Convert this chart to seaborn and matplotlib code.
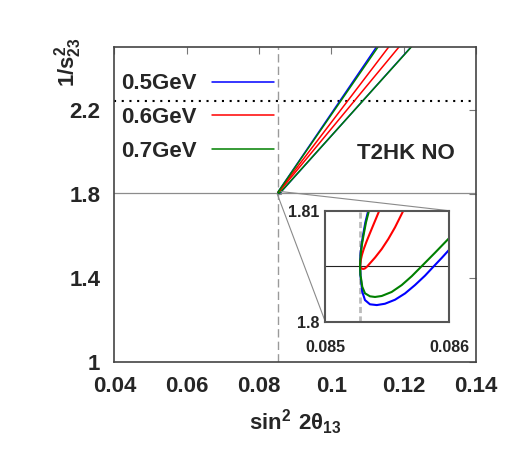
import pandas as pd
import seaborn as sns
import matplotlib
matplotlib.use('Agg')
import matplotlib.pyplot as plt
from matplotlib.lines import Line2D
from mpl_toolkits.axes_grid1.inset_locator import mark_inset

# true point and the s23 reference line
x_true = 0.08528
y_true = 1.805
y_dotted = 2.24

energies = ['0.5GeV', '0.6GeV', '0.7GeV']
colors = ['blue', 'red', 'green']

# degeneracy branches (inset detail + exit at top of main frame)
blue_up_x = [0.08528, 0.085281, 0.085285, 0.085293, 0.085306, 0.085323, 0.085346, 0.11255]
blue_up_y = [1.805, 1.8055, 1.8062, 1.8070, 1.8079, 1.80895, 1.81, 2.5]
blue_low_x = [0.08528, 0.085283, 0.085288, 0.085298, 0.08532, 0.08536, 0.085415, 0.085481,
              0.085562, 0.085643, 0.085723, 0.085804, 0.085871, 0.085939, 0.086, 0.12215]
blue_low_y = [1.805, 1.8042, 1.80376, 1.8027, 1.80195, 1.80157, 1.8015, 1.80162,
              1.80198, 1.80255, 1.8033, 1.80415, 1.80495, 1.80575, 1.8065, 2.5]

red_up_x = [0.08528, 0.085285, 0.085295, 0.08531, 0.085334, 0.08536, 0.085387, 0.085415,
            0.085435, 0.11595]
red_up_y = [1.805, 1.8055, 1.806, 1.80655, 1.80727, 1.80798, 1.80871, 1.80946, 1.81, 2.5]
red_low_x = [0.08528, 0.085288, 0.085298, 0.08531, 0.085322, 0.085336, 0.085355, 0.085401,
             0.085455, 0.085508, 0.085562, 0.085629, 0.1188]
red_low_y = [1.805, 1.80485, 1.80477, 1.80476, 1.80482, 1.80496, 1.8052, 1.80578,
             1.80655, 1.80745, 1.8085, 1.81, 2.5]

green_up_x = [0.08528, 0.085282, 0.085287, 0.085296, 0.08531, 0.085328, 0.085352, 0.11299]
green_up_y = [1.805, 1.8055, 1.8062, 1.8070, 1.8079, 1.80895, 1.81, 2.5]
green_low_x = [0.08528, 0.085283, 0.085288, 0.085298, 0.08532, 0.08536, 0.085401, 0.085455,
               0.085535, 0.085616, 0.085697, 0.085777, 0.085885, 0.086, 0.12222]
green_low_y = [1.805, 1.8042, 1.80391, 1.80315, 1.80256, 1.80229, 1.80223, 1.80232,
               1.80268, 1.8033, 1.8041, 1.805, 1.80622, 1.80755, 2.5]

xticks = [0.04, 0.06, 0.08, 0.1, 0.12, 0.14]
xtick_labels = ['0.04', '0.06', '0.08', '0.1', '0.12', '0.14']
yticks = [1, 1.4, 1.8, 2.2]
ytick_labels = ['1', '1.4', '1.8', '2.2']
inset_xticks = [0.085, 0.086]
inset_xtick_labels = ['0.085', '0.086']
inset_yticks = [1.8, 1.81]
inset_ytick_labels = ['1.8', '1.81']

branches = [
    ('0.5GeV', 'up', blue_up_x, blue_up_y),
    ('0.5GeV', 'low', blue_low_x, blue_low_y),
    ('0.6GeV', 'up', red_up_x, red_up_y),
    ('0.6GeV', 'low', red_low_x, red_low_y),
    ('0.7GeV', 'up', green_up_x, green_up_y),
    ('0.7GeV', 'low', green_low_x, green_low_y),
]
rows = []
for e, b, xs, ys in branches:
    for xv, yv in zip(xs, ys):
        rows.append({'energy': e, 'branch': e + b, 'x': xv, 'y': yv})
df = pd.DataFrame(rows)

sns.set_style('white')
plt.rcParams['font.family'] = ['Liberation Sans', 'DejaVu Sans']
plt.rcParams['font.weight'] = 'bold'
plt.rcParams['mathtext.fontset'] = 'custom'
plt.rcParams['mathtext.rm'] = 'Liberation Sans:bold'
plt.rcParams['mathtext.it'] = 'Liberation Sans:bold'
plt.rcParams['mathtext.bf'] = 'Liberation Sans:bold'

fig = plt.figure(figsize=(5.18, 4.53), dpi=100)
ax = fig.add_axes([0.2207, 0.2015, 0.6983, 0.6958])

# reference lines
ax.axhline(y_true, color='#8c8c8c', lw=0.9, zorder=1)
ax.axvline(x_true, color='#9a9a9a', lw=1.0, ls=(0, (6, 3)), zorder=1)
ax.axhline(y_dotted, color='black', lw=1.5, ls=(0, (1, 2.7)), zorder=1)

sns.lineplot(data=df, x='x', y='y', hue='energy', hue_order=energies, palette=colors,
             units='branch', estimator=None, sort=False, lw=1.1, legend=False, ax=ax)

ax.set_xlim(0.04, 0.14)
ax.set_ylim(1, 2.5)
ax.set_xticks(xticks)
ax.set_xticklabels(xtick_labels)
ax.set_yticks(yticks)
ax.set_yticklabels(ytick_labels)
ax.tick_params(direction='in', length=5, width=0.8, color='#777777', top=True, right=True,
               labelsize=16, pad=10)
for s in ax.spines.values():
    s.set_color('#444444')
    s.set_linewidth(1.2)

ax.set_xlabel(r'$\sin^2\:2\theta_{13}$', fontsize=16, labelpad=7.5)
ax.set_ylabel(r'$1/s^2_{23}$', fontsize=16)
ax.yaxis.set_label_coords(-0.083, 0.95)

handles = [Line2D([], [], color=c, lw=1.1) for c in colors]
ax.legend(handles, energies, loc='upper left', bbox_to_anchor=(0.0185, 0.915), frameon=False,
          markerfirst=False, handlelength=2.8, handletextpad=0.68, labelspacing=0.58,
          borderpad=0, borderaxespad=0, prop={'weight': 'bold', 'size': 16})

ax.text(0.670, 0.643, 'T2HK NO', transform=ax.transAxes, fontsize=16, fontweight='bold',
        ha='left', va='baseline')

# zoomed inset around the true point
axins = fig.add_axes([0.628, 0.2898, 0.2394, 0.245])
axins.axhline(y_true, color='#222222', lw=0.8, zorder=1)
axins.axvline(x_true, color='#bbbbbb', lw=2.0, ls=(0, (2.2, 1.2)), zorder=1)
sns.lineplot(data=df, x='x', y='y', hue='energy', hue_order=energies, palette=colors,
             units='branch', estimator=None, sort=False, lw=1.5, legend=False, ax=axins)
axins.set_xlim(0.085, 0.086)
axins.set_ylim(1.8, 1.81)
axins.set_xticks(inset_xticks)
axins.set_xticklabels(inset_xtick_labels)
axins.set_yticks(inset_yticks)
axins.set_yticklabels(inset_ytick_labels)
axins.set_xlabel('')
axins.set_ylabel('')
axins.tick_params(axis='x', length=0, labelsize=11.5, pad=13)
axins.tick_params(axis='y', length=0, labelsize=11.5, pad=4)
for s in axins.spines.values():
    s.set_color('#555555')
    s.set_linewidth(1.5)

mark_inset(ax, axins, loc1=1, loc2=3, fc='none', ec='#8a8a8a', lw=0.8)

fig.savefig('out.png', dpi=100)
